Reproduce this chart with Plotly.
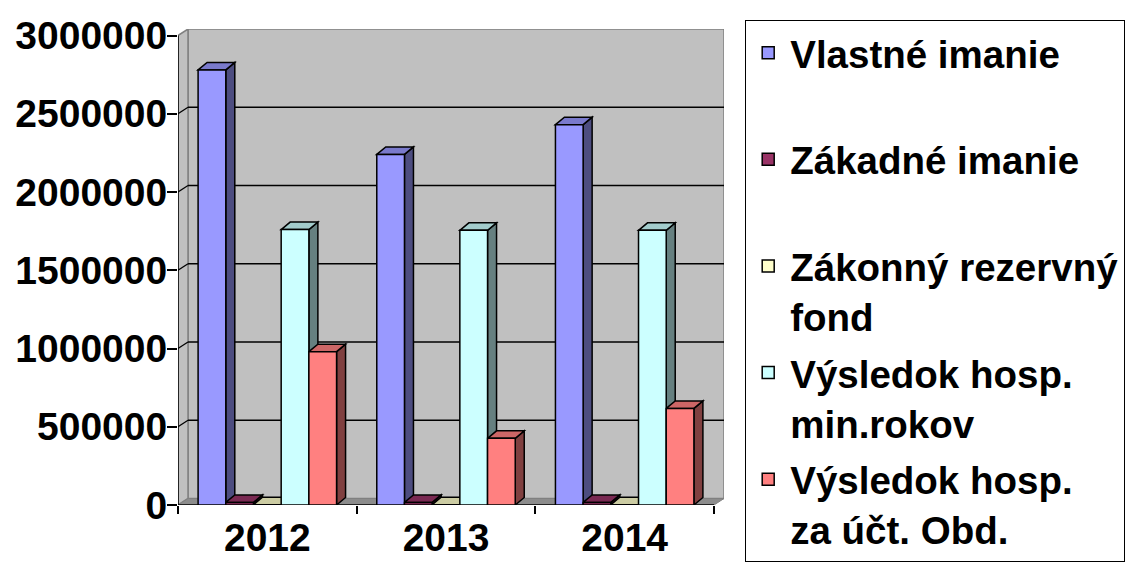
import plotly.graph_objects as go

# ---------------- data ----------------
years = ["2012", "2013", "2014"]
series_names = [
    "Vlastné imanie",
    "Zákadné imanie",
    "Zákonný rezervný fond",
    "Výsledok hosp. min.rokov",
    "Výsledok hosp. za účt. Obd.",
]
legend_labels = [
    "Vlastné imanie<br>\u00a0",
    "Zákadné imanie<br>\u00a0",
    "Zákonný rezervný<br>fond",
    "Výsledok hosp.<br>min.rokov",
    "Výsledok hosp.<br>za účt. Obd.",
]
vlastne_imanie = [2780000, 2240000, 2430000]
zakladne_imanie = [16600, 16600, 16600]
zakonny_fond = [1660, 1660, 1660]
vysledok_min_rokov = [1760000, 1755000, 1755000]
vysledok_za_obd = [980000, 426000, 617000]
y_tick_values = [0, 500000, 1000000, 1500000, 2000000, 2500000, 3000000]

front_colors = ["#9999FF", "#993366", "#FFFFCC", "#CCFFFF", "#FF8080"]
top_colors = ["#7A7ACC", "#7A2952", "#CCCCA3", "#A3CCCC", "#CC6666"]
side_colors = ["#4D4D80", "#4D1A33", "#808066", "#668080", "#804040"]

series_values = [vlastne_imanie, zakladne_imanie, zakonny_fond,
                 vysledok_min_rokov, vysledok_za_obd]

# ---------------- geometry (pseudo 3-D) ----------------
PAGE_OFF = 8                      # default page body margin
W, H = 1138 - PAGE_OFF, 562 - PAGE_OFF
plot_left, plot_right = 178 - PAGE_OFF, 724 - PAGE_OFF
plot_top, plot_bottom = 29 - PAGE_OFF, 505 - PAGE_OFF
px_per_cat = 178.67
x_min = -0.5
x_max = x_min + (plot_right - plot_left) / px_per_cat
wall_dx_px, wall_dy_px = 10, 6.5
y_top_val = y_tick_values[-1]
px_per_val = (plot_bottom - plot_top - wall_dy_px) / y_top_val
y_max = y_top_val + wall_dy_px / px_per_val
wdx = wall_dx_px / px_per_cat
wdy = wall_dy_px / px_per_val
bdx = 9 / px_per_cat
bdy = 7.5 / px_per_val
bar_w = 0.155
group_off = -2.5 * bar_w

FONT = "Liberation Sans, Arial, sans-serif"


def poly(pts, fill, line_color="rgba(0,0,0,0)", width=0):
    path = "M " + " L ".join(f"{x},{y}" for x, y in pts) + " Z"
    return dict(type="path", path=path, xref="x", yref="y", layer="below",
                fillcolor=fill, line=dict(color=line_color, width=width))


def seg(x0, y0, x1, y1, color, width):
    return dict(type="line", x0=x0, y0=y0, x1=x1, y1=y1, xref="x", yref="y",
                layer="below", line=dict(color=color, width=width))


shapes = []
# back wall
shapes.append(poly([(x_min + wdx, wdy), (x_max, wdy), (x_max, y_max), (x_min + wdx, y_max)],
                   "#C0C0C0", "#808080", 1.5))
# side wall
shapes.append(poly([(x_min, 0), (x_min + wdx, wdy), (x_min + wdx, y_max), (x_min, y_top_val)],
                   "#C0C0C0", "#808080", 1.5))
# floor
shapes.append(poly([(x_min, 0), (x_max - wdx, 0), (x_max, wdy), (x_min + wdx, wdy)],
                   "#8C8C8C", "#808080", 1))
# gridlines on walls
for v in y_tick_values[1:-1]:
    shapes.append(seg(x_min, v, x_min + wdx, v + wdy, "black", 1.3))
    shapes.append(seg(x_min + wdx, v + wdy, x_max, v + wdy, "black", 1.3))
# front axis lines
shapes.append(seg(x_min, 0, x_min, y_top_val, "black", 1.5))
shapes.append(seg(x_min, 0, x_max - wdx, 0, "black", 1.5))

# bar depth faces (fronts are real bar traces drawn above)
for i in range(len(years)):
    for k, vals in enumerate(series_values):
        v = vals[i]
        x0 = i + group_off + k * bar_w
        x1 = x0 + bar_w
        shapes.append(poly([(x1, 0), (x1 + bdx, bdy), (x1 + bdx, v + bdy), (x1, v)],
                           side_colors[k], "black", 1.5))
        shapes.append(poly([(x0, v), (x0 + bdx, v + bdy), (x1 + bdx, v + bdy), (x1, v)],
                           top_colors[k], "black", 1.5))

fig = go.Figure()
for k, vals in enumerate(series_values):
    fig.add_trace(go.Bar(
        x=years, y=vals, name=legend_labels[k], legendgroup=str(k),
        width=bar_w, offset=group_off + k * bar_w,
        marker=dict(color=front_colors[k], line=dict(color="black", width=1.5)),
        hovertemplate=series_names[k] + " %{x}: %{y}<extra></extra>",
    ))

fig.update_layout(
    template="none",
    width=W, height=H, autosize=False,
    margin=dict(l=plot_left, r=W - plot_right, t=plot_top, b=H - plot_bottom, pad=0),
    paper_bgcolor="white", plot_bgcolor="white",
    barmode="overlay",
    shapes=shapes,
    font=dict(family=FONT, color="black"),
    showlegend=True,
    legend=dict(
        xref="container", yref="container",
        x=(745 - PAGE_OFF) / W, y=1 - (20 - PAGE_OFF) / H, xanchor="left", yanchor="top",
        bordercolor="black", borderwidth=1.2, bgcolor="white",
        font=dict(size=38.5, family=FONT, color="black", weight="bold"),
        valign="top", traceorder="grouped", tracegroupgap=3.5, maxheight=1.0,
        itemwidth=34,
    ),
    xaxis=dict(
        type="category", range=[x_min, x_max], autorange=False,
        tickson="boundaries", ticks="outside", ticklen=8, tickwidth=1.5, tickcolor="black",
        showline=False, showgrid=False, zeroline=False, automargin=False,
        ticklabelstandoff=6,
        tickfont=dict(size=39, family=FONT, color="black", weight="bold"),
    ),
    yaxis=dict(
        range=[0, y_max], autorange=False,
        tickvals=y_tick_values, tickformat="d",
        ticks="outside", ticklen=10, tickwidth=1.5, tickcolor="black",
        showline=False, showgrid=False, zeroline=False, automargin=False,
        ticklabelstandoff=-8,
        tickfont=dict(size=39, family=FONT, color="black", weight="bold"),
    ),
)

fig.write_html("out.html")
